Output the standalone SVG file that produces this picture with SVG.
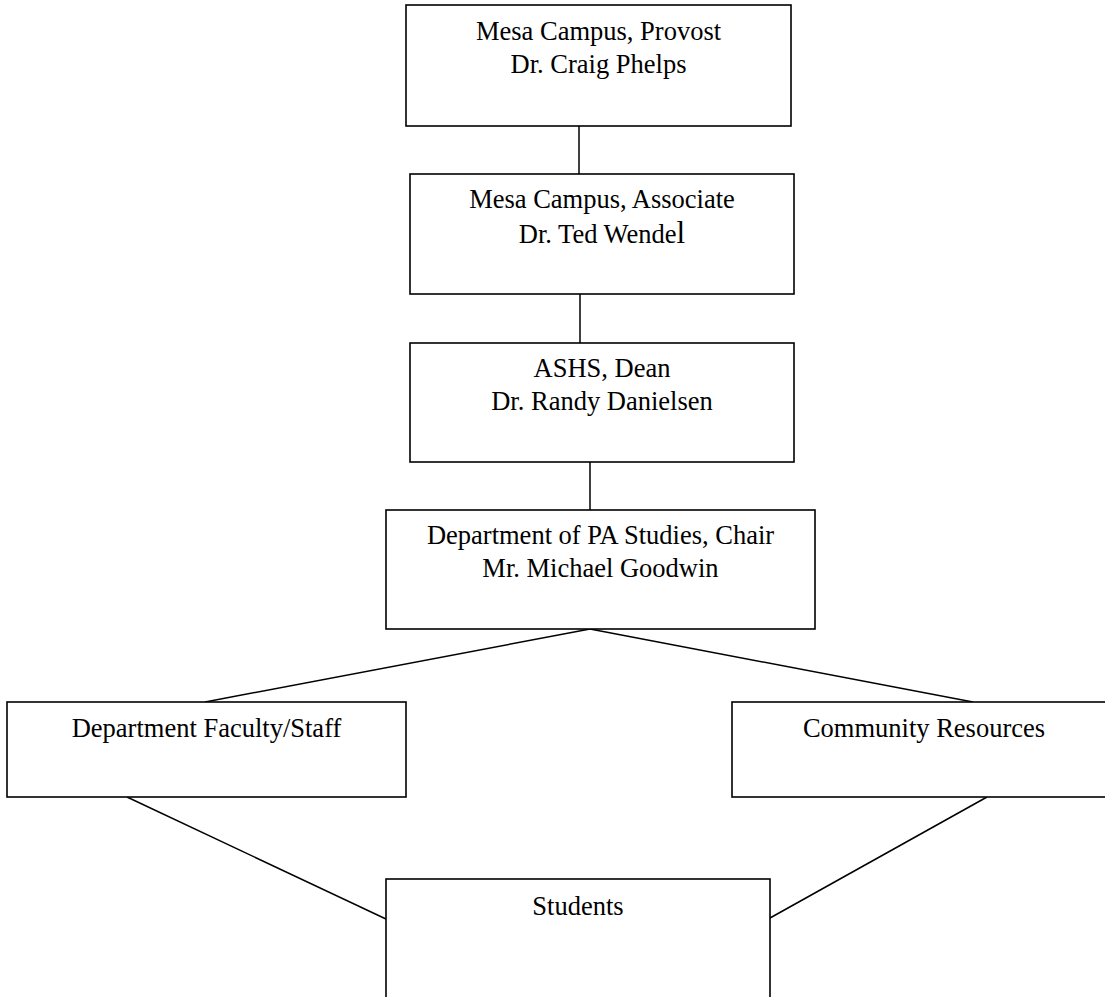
<svg xmlns="http://www.w3.org/2000/svg" width="1105" height="997" viewBox="0 0 1105 997">
<style>
.box{fill:#fff;stroke:#000;stroke-width:1.6}
.lbl{font-family:"Liberation Serif","Times New Roman",serif;font-size:26.5px;fill:#000;text-anchor:middle}
.conn line{stroke:#000;stroke-width:1.5}
</style>
<rect width="1105" height="997" fill="#fff"/>
<g class="conn" id="connectors">
<line x1="579" y1="126" x2="579" y2="174"/>
<line x1="580" y1="294" x2="580" y2="343"/>
<line x1="590" y1="462" x2="590" y2="510"/>
<line x1="590" y1="629" x2="205" y2="702"/>
<line x1="590" y1="629" x2="973" y2="702"/>
<line x1="127" y1="797" x2="386" y2="919"/>
<line x1="987" y1="797" x2="770" y2="918"/>
</g>
<g id="provost">
<rect class="box" x="406" y="5" width="385" height="121"/>
<text class="lbl" x="598.5" y="40">Mesa Campus, Provost</text>
<text class="lbl" x="598.5" y="73">Dr. Craig Phelps</text>
</g>
<g id="associate">
<rect class="box" x="410" y="174" width="384" height="120"/>
<text class="lbl" x="602" y="208">Mesa Campus, Associate</text>
<text class="lbl" x="602" y="243">Dr. Ted Wende<tspan font-size="31">l</tspan></text>
</g>
<g id="dean">
<rect class="box" x="410" y="343" width="384" height="119"/>
<text class="lbl" x="602" y="377">ASHS, Dean</text>
<text class="lbl" x="602" y="410">Dr. Randy Danielsen</text>
</g>
<g id="chair">
<rect class="box" x="386" y="510" width="429" height="119"/>
<text class="lbl" x="600.5" y="544">Department of PA Studies, Chair</text>
<text class="lbl" x="600.5" y="577">Mr. Michael Goodwin</text>
</g>
<g id="faculty">
<rect class="box" x="7" y="702" width="399" height="95"/>
<text class="lbl" x="206.5" y="737">Department Faculty/Staff</text>
</g>
<g id="community">
<rect class="box" x="732" y="702" width="384" height="95"/>
<text class="lbl" x="924" y="737">Community Resources</text>
</g>
<g id="students">
<rect class="box" x="386" y="879" width="384" height="130"/>
<text class="lbl" x="578" y="915">Students</text>
</g>
</svg>
